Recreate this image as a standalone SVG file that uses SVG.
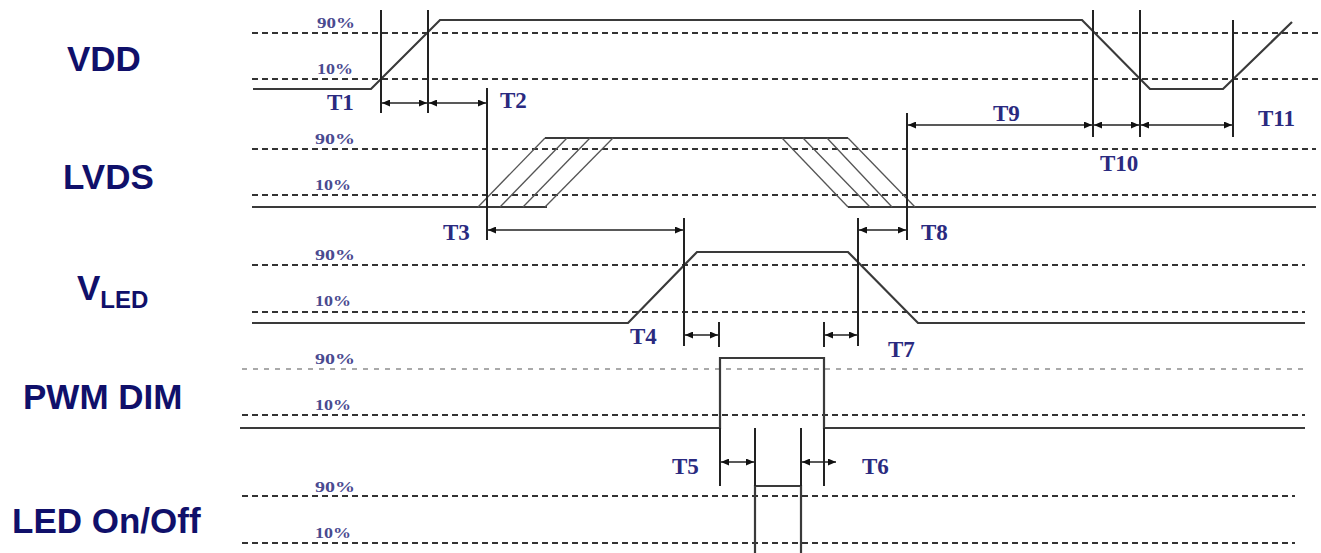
<svg xmlns="http://www.w3.org/2000/svg" width="1321" height="553" viewBox="0 0 1321 553">
<style>
.bg{fill:#ffffff}
.dash{stroke:#333;stroke-width:2;stroke-dasharray:6 4;fill:none}
.dashl{stroke:#aaa;stroke-width:2;stroke-dasharray:5 6;fill:none}
.sig{stroke:#3a3a3a;stroke-width:2.2;fill:none}
.thin{stroke:#555;stroke-width:1.3;fill:none}
.vl{stroke:#222;stroke-width:2;fill:none}
.arr{stroke:#222;stroke-width:1.5;fill:none;marker-start:url(#ah);marker-end:url(#ah)}
.lbl{font-family:"Liberation Sans",Arial,sans-serif;font-weight:bold;font-size:35px;fill:#10106a}
.pct{font-family:"Liberation Serif","Times New Roman",serif;font-weight:bold;font-size:15px;fill:#4a4a90}
.t{font-family:"Liberation Serif","Times New Roman",serif;font-weight:bold;font-size:23px;fill:#2a2a80}
</style>
<defs>
<marker id="ah" viewBox="0 0 10 10" refX="10" refY="5" markerWidth="8" markerHeight="7" markerUnits="userSpaceOnUse" orient="auto-start-reverse" preserveAspectRatio="none">
<path d="M0,0 L10,5 L0,10 Z" fill="#111"/>
</marker>
</defs>
<rect class="bg" x="0" y="0" width="1321" height="553"/>

<g id="labels">
<text class="lbl" x="67" y="71">VDD</text>
<text class="lbl" x="63" y="189">LVDS</text>
<text class="lbl" x="77" y="300">V<tspan font-size="24" dy="8">LED</tspan></text>
<text class="lbl" x="23" y="409">PWM DIM</text>
<text class="lbl" x="12" y="533">LED On/Off</text>
</g>

<g id="levels">
<line class="dash" x1="252" y1="33" x2="1321" y2="33"/>
<line class="dash" x1="252" y1="79" x2="1321" y2="79"/>
<line class="dash" x1="252" y1="149" x2="1316" y2="149"/>
<line class="dash" x1="252" y1="195" x2="1316" y2="195"/>
<line class="dash" x1="252" y1="265" x2="1305" y2="265"/>
<line class="dash" x1="252" y1="312" x2="1305" y2="312"/>
<line class="dashl" x1="242" y1="369" x2="1305" y2="369"/>
<line class="dash" x1="242" y1="415" x2="1305" y2="415"/>
<line class="dash" x1="242" y1="496" x2="1295" y2="496"/>
<line class="dash" x1="242" y1="543" x2="1295" y2="543"/>
<text class="pct" x="317" y="28" textLength="38" lengthAdjust="spacingAndGlyphs">90%</text>
<text class="pct" x="317" y="74" textLength="36" lengthAdjust="spacingAndGlyphs">10%</text>
<text class="pct" x="315" y="144" textLength="40" lengthAdjust="spacingAndGlyphs">90%</text>
<text class="pct" x="315" y="190" textLength="36" lengthAdjust="spacingAndGlyphs">10%</text>
<text class="pct" x="315" y="260" textLength="40" lengthAdjust="spacingAndGlyphs">90%</text>
<text class="pct" x="315" y="306" textLength="36" lengthAdjust="spacingAndGlyphs">10%</text>
<text class="pct" x="315" y="364" textLength="40" lengthAdjust="spacingAndGlyphs">90%</text>
<text class="pct" x="315" y="410" textLength="36" lengthAdjust="spacingAndGlyphs">10%</text>
<text class="pct" x="315" y="492" textLength="40" lengthAdjust="spacingAndGlyphs">90%</text>
<text class="pct" x="315" y="538" textLength="36" lengthAdjust="spacingAndGlyphs">10%</text>
</g>

<g id="vdd">
<polyline class="sig" points="253,89 371,89 440,20 1082,20 1150,89 1223,89 1292,22"/>
</g>

<g id="lvds">
<line class="sig" x1="252" y1="207" x2="547" y2="207"/>
<line class="sig" x1="545" y1="138" x2="848" y2="138"/>
<line class="sig" x1="848" y1="207" x2="1316" y2="207"/>
<line class="thin" x1="478" y1="207" x2="545" y2="138"/>
<line class="thin" x1="500" y1="207" x2="567" y2="138"/>
<line class="thin" x1="523" y1="207" x2="590" y2="138"/>
<line class="thin" x1="545" y1="207" x2="613" y2="138"/>
<line class="thin" x1="782" y1="138" x2="848" y2="207"/>
<line class="thin" x1="803" y1="138" x2="870" y2="207"/>
<line class="thin" x1="827" y1="138" x2="892" y2="207"/>
<line class="thin" x1="848" y1="138" x2="915" y2="207"/>
</g>

<g id="vled">
<polyline class="sig" points="252,323 628,323 697,252 848,252 918,323 1305,323"/>
</g>

<g id="pwm">
<polyline class="sig" points="240,428 720,428 720,358 824,358 824,428 1305,428"/>
</g>

<g id="led">
<polyline class="sig" points="755,553 755,486 801,486 801,553"/>
</g>

<g id="connectors">
<line class="vl" x1="381" y1="10" x2="381" y2="113"/>
<line class="vl" x1="428" y1="10" x2="428" y2="113"/>
<line class="vl" x1="487" y1="88" x2="487" y2="240"/>
<line class="vl" x1="907" y1="113" x2="907" y2="240"/>
<line class="vl" x1="1093" y1="10" x2="1093" y2="137"/>
<line class="vl" x1="1140" y1="10" x2="1140" y2="137"/>
<line class="vl" x1="1233" y1="20" x2="1233" y2="137"/>
<line class="vl" x1="684" y1="218" x2="684" y2="346"/>
<line class="vl" x1="858" y1="218" x2="858" y2="346"/>
<line class="vl" x1="719" y1="322" x2="719" y2="347"/>
<line class="vl" x1="824" y1="322" x2="824" y2="347"/>
<line class="vl" x1="720" y1="428" x2="720" y2="486"/>
<line class="vl" x1="824" y1="428" x2="824" y2="486"/>
<line class="vl" x1="755" y1="428" x2="755" y2="486"/>
<line class="vl" x1="801" y1="428" x2="801" y2="486"/>
<line class="arr" x1="382" y1="103" x2="427" y2="103"/>
<line class="arr" x1="429" y1="103" x2="486" y2="103"/>
<line class="arr" x1="908" y1="125" x2="1092" y2="125"/>
<line class="arr" x1="1094" y1="125" x2="1139" y2="125"/>
<line class="arr" x1="1141" y1="125" x2="1232" y2="125"/>
<line class="arr" x1="488" y1="230" x2="683" y2="230"/>
<line class="arr" x1="859" y1="230" x2="906" y2="230"/>
<line class="arr" x1="685" y1="335" x2="718" y2="335"/>
<line class="arr" x1="825" y1="335" x2="857" y2="335"/>
<line class="arr" x1="721" y1="462" x2="754" y2="462"/>
<line class="arr" x1="802" y1="462" x2="836" y2="462"/>
</g>

<g id="timing-labels">
<text class="t" x="327" y="110">T1</text>
<text class="t" x="500" y="108">T2</text>
<text class="t" x="443" y="240">T3</text>
<text class="t" x="630" y="344">T4</text>
<text class="t" x="672" y="474">T5</text>
<text class="t" x="862" y="474">T6</text>
<text class="t" x="888" y="357">T7</text>
<text class="t" x="921" y="240">T8</text>
<text class="t" x="993" y="121">T9</text>
<text class="t" x="1100" y="171">T10</text>
<text class="t" x="1258" y="126">T11</text>
</g>
</svg>
